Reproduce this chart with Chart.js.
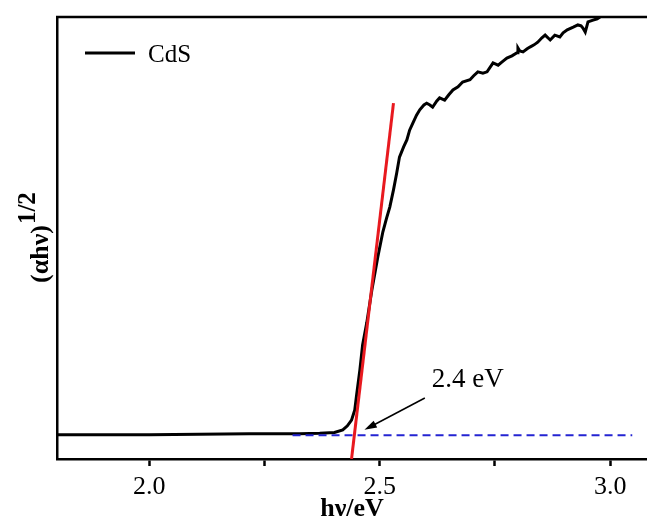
<!DOCTYPE html>
<html>
<head>
<meta charset="utf-8">
<script src="https://cdn.jsdelivr.net/npm/chart.js@4"></script>
<style>
  body { margin: 0; background: #fff; }
  #wrap { width: 647px; height: 527px; }
</style>
</head>
<body>
<div id="wrap"><canvas id="myChart" width="647" height="527"></canvas></div>
<script>
// CdS curve, (αhν)^1/2 in arbitrary units
const cdsX = [1.80, 2.00, 2.217, 2.326, 2.370, 2.402, 2.420, 2.430, 2.439, 2.446, 2.450, 2.457, 2.463, 2.472,
  2.483, 2.496, 2.507, 2.515, 2.522, 2.530, 2.537, 2.543, 2.552, 2.559, 2.565, 2.572, 2.580, 2.587,
  2.596, 2.602, 2.609, 2.615, 2.624, 2.630, 2.641, 2.650, 2.659, 2.670, 2.680, 2.696, 2.704, 2.713,
  2.724, 2.733, 2.746, 2.757, 2.765, 2.776, 2.787, 2.798, 2.800, 2.804, 2.811, 2.820, 2.826, 2.835,
  2.843, 2.852, 2.859, 2.870, 2.880, 2.891, 2.898, 2.907, 2.920, 2.930, 2.937, 2.941, 2.946, 2.952,
  2.963, 2.972, 2.978, 2.989, 3.000, 3.022, 3.054, 3.080];
const cdsY = [0.055, 0.055, 0.057, 0.057, 0.058, 0.060, 0.066, 0.075, 0.088, 0.111, 0.145, 0.201, 0.258, 0.308,
  0.382, 0.457, 0.514, 0.545, 0.570, 0.609, 0.647, 0.683, 0.706, 0.722, 0.744, 0.760, 0.778, 0.790,
  0.801, 0.805, 0.801, 0.796, 0.810, 0.817, 0.812, 0.824, 0.835, 0.842, 0.853, 0.858, 0.867, 0.876,
  0.873, 0.876, 0.896, 0.891, 0.898, 0.907, 0.912, 0.919, 0.930, 0.923, 0.921, 0.928, 0.932, 0.937,
  0.943, 0.953, 0.959, 0.948, 0.959, 0.955, 0.964, 0.971, 0.977, 0.982, 0.980, 0.975, 0.966, 0.989,
  0.993, 0.996, 1.000, 1.007, 1.011, 1.020, 1.029, 1.039];

// tangent drawn on the absorption edge
const fitX = [2.439, 2.530];
const fitY = [0.0, 0.805];

// dashed baseline
const baseX = [2.311, 3.048];
const baseY = [0.054, 0.054];

const seriesName = "CdS";
const gapLabel = "2.4 eV";
const labelAt = [2.613, 0.163];
const arrowFrom = [2.598, 0.138];
const arrowTo = [2.467, 0.066];

const serif = "'Liberation Serif', 'Times New Roman', serif";

let toPoints = (xs, ys) => xs.map((x, i) => ({ x: x, y: ys[i] }));

let extras = {
  id: "extras",
  afterDraw: (chart) => {
    let ctx = chart.ctx;
    let area = chart.chartArea;
    let xs = chart.scales.x;
    let ys = chart.scales.y;
    ctx.save();

    // top frame line
    ctx.strokeStyle = "#000";
    ctx.lineWidth = 2.5;
    ctx.beginPath();
    ctx.moveTo(area.left - 1, area.top);
    ctx.lineTo(area.right, area.top);
    ctx.stroke();

    // legend inside the plot
    ctx.lineWidth = 3;
    ctx.beginPath();
    ctx.moveTo(area.left + 28, 53);
    ctx.lineTo(area.left + 78, 53);
    ctx.stroke();
    ctx.fillStyle = "#000";
    ctx.font = "25px " + serif;
    ctx.textAlign = "left";
    ctx.textBaseline = "alphabetic";
    ctx.fillText(seriesName, area.left + 91, 62);

    // arrow to the intercept
    let x1 = xs.getPixelForValue(arrowFrom[0]);
    let y1 = ys.getPixelForValue(arrowFrom[1]);
    let x2 = xs.getPixelForValue(arrowTo[0]);
    let y2 = ys.getPixelForValue(arrowTo[1]);
    let ang = Math.atan2(y2 - y1, x2 - x1);
    let head = 13;
    ctx.lineWidth = 1.5;
    ctx.beginPath();
    ctx.moveTo(x1, y1);
    ctx.lineTo(x2 - Math.cos(ang) * head * 0.8, y2 - Math.sin(ang) * head * 0.8);
    ctx.stroke();
    ctx.beginPath();
    ctx.moveTo(x2, y2);
    ctx.lineTo(x2 - head * Math.cos(ang - 0.3), y2 - head * Math.sin(ang - 0.3));
    ctx.lineTo(x2 - head * Math.cos(ang + 0.3), y2 - head * Math.sin(ang + 0.3));
    ctx.closePath();
    ctx.fill();

    ctx.font = "27px " + serif;
    ctx.fillText(gapLabel, xs.getPixelForValue(labelAt[0]), ys.getPixelForValue(labelAt[1]));

    // y axis title with superscript
    ctx.translate(48, 283);
    ctx.rotate(-Math.PI / 2);
    ctx.font = "bold 26px " + serif;
    ctx.fillText("(αhν)", 0, 0);
    let w = ctx.measureText("(αhν)").width;
    ctx.font = "bold 25px " + serif;
    ctx.fillText("1/2", w + 1, -13);
    ctx.restore();
  },
};

let chart = new Chart(document.getElementById("myChart"), {
  type: "line",
  data: {
    datasets: [
      {
        label: "fit",
        data: toPoints(fitX, fitY),
        borderColor: "#e8191f",
        borderWidth: 3,
        pointRadius: 0,
      },
      {
        label: "baseline",
        data: toPoints(baseX, baseY),
        borderColor: "#2424d2",
        borderWidth: 2,
        borderDash: [8, 5],
        pointRadius: 0,
      },
      {
        label: seriesName,
        data: toPoints(cdsX, cdsY),
        borderColor: "#000",
        borderWidth: 3,
        pointRadius: 0,
        tension: 0,
      },
    ],
  },
  options: {
    responsive: false,
    animation: false,
    layout: { padding: { top: 17, right: 0, left: 0, bottom: 0 } },
    plugins: {
      legend: { display: false },
      tooltip: { enabled: false },
    },
    scales: {
      x: {
        type: "linear",
        min: 1.8,
        max: 3.08,
        afterFit: (s) => { s.height = 68; },
        border: { display: true, color: "#000", width: 2.5 },
        grid: { drawOnChartArea: false, drawTicks: true, tickLength: 7, tickColor: "#000", tickWidth: 2.5 },
        ticks: {
          stepSize: 0.25,
          includeBounds: false,
          autoSkip: false,
          maxRotation: 0,
          padding: 6,
          color: "#000",
          font: { family: serif, size: 26 },
          callback: (v) => (Math.abs(v * 2 - Math.round(v * 2)) < 1e-6 ? v.toFixed(1) : ""),
        },
        title: {
          display: true,
          text: "hν/eV",
          color: "#000",
          font: { family: serif, size: 26, weight: "bold", lineHeight: 1 },
          padding: { top: 0, bottom: 5 },
        },
      },
      y: {
        min: 0,
        max: 1,
        afterFit: (s) => { s.width = 57; },
        border: { display: true, color: "#000", width: 2.5 },
        grid: { display: false },
        ticks: { display: false },
      },
    },
  },
  plugins: [extras],
});
</script>
</body>
</html>
